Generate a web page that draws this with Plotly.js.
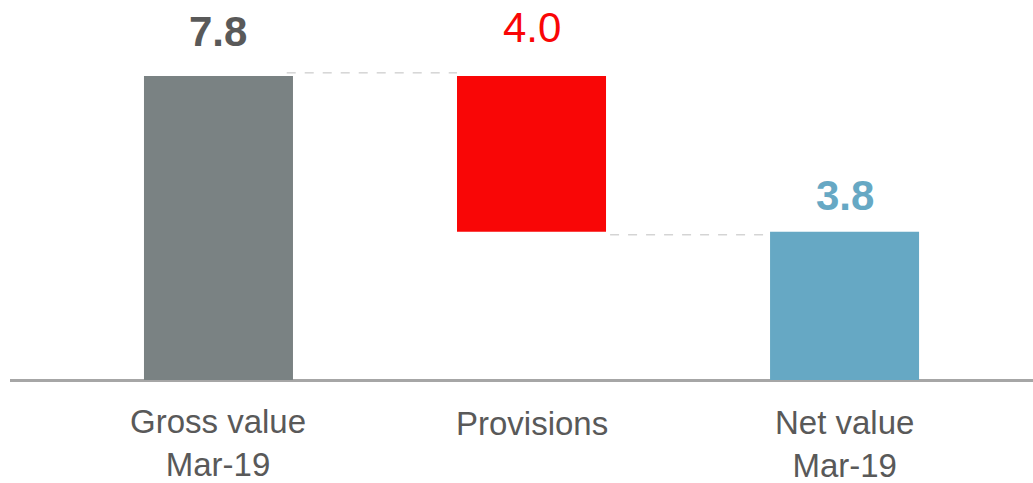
<!DOCTYPE html>
<html>
<head>
<meta charset="utf-8">
<script src="https://cdn.plot.ly/plotly-3.0.1.min.js"></script>
<style>html,body{margin:0;padding:0;background:#fff;}#chart{width:1033px;height:483px;}</style>
</head>
<body>
<div id="chart"></div>
<script>
// Data
const categories = ["Gross value<br>Mar-19", "Provisions", "Net value<br>Mar-19"];
const measures = ["absolute", "relative", "total"];
const values = [7.8, -4.0, 3.8];
const valueLabels = ["7.8", "4.0", "3.8"];

// Styles
const barColors = ["#7A8283", "#F90606", "#66A8C4"];
const labelColors = ["#595959", "#F90606", "#66A8C4"];
const labelWeights = ["bold", "normal", "bold"];
const labelShift = [44, 48, 36];
const tickShift = [-21, -23, -22];
const connectorOffset = [3, -3];
const connectorStart = [-0.02, 0.013];

// compute bar bases / heights
const bases = [], heights = [], tops = [];
let running = 0;
for (let i = 0; i < values.length; i++) {
  if (measures[i] === "absolute") { bases.push(0); heights.push(values[i]); running = values[i]; tops.push(values[i]); }
  else if (measures[i] === "relative") {
    const newRun = running + values[i];
    bases.push(Math.min(running, newRun)); heights.push(Math.abs(values[i])); tops.push(Math.max(running, newRun)); running = newRun;
  } else { bases.push(0); heights.push(running); tops.push(running); }
}

const barWidth = 0.476;
const idx = categories.map((c, i) => i);

const trace = {
  type: "bar",
  x: idx,
  y: heights,
  base: bases,
  width: barWidth,
  marker: { color: barColors, line: { width: 0 } },
  hoverinfo: "none"
};

// connectors
const shapes = [];
let run = 0;
for (let i = 0; i < values.length - 1; i++) {
  if (measures[i] === "absolute") run = values[i];
  else if (measures[i] === "relative") run = run + values[i];
  shapes.push({
    type: "line", xref: "x", yref: "y",
    ysizemode: "pixel", yanchor: run,
    x0: i + barWidth / 2 + connectorStart[i], x1: i + 1 - barWidth / 2,
    y0: connectorOffset[i], y1: connectorOffset[i],
    line: { color: "#BFBFBF", width: 1, dash: "dash" }
  });
}

const annotations = [];
for (let i = 0; i < values.length; i++) {
  annotations.push({
    x: i, y: tops[i], xref: "x", yref: "y",
    text: valueLabels[i], showarrow: false,
    yanchor: "middle", yshift: labelShift[i],
    font: { family: "Liberation Sans, Arial, sans-serif", size: 42, color: labelColors[i], weight: labelWeights[i] }
  });
  annotations.push({
    x: i, y: 0, xref: "x", yref: "y",
    text: categories[i], showarrow: false,
    yanchor: "top", yshift: tickShift[i],
    font: { family: "Liberation Sans, Arial, sans-serif", size: 33, color: "#595959" }
  });
}

const layout = {
  width: 1033, height: 483,
  margin: { l: 10, r: 0, t: 10, b: 103 },
  paper_bgcolor: "#fff", plot_bgcolor: "#fff",
  showlegend: false,
  xaxis: {
    range: [-0.666, 2.602], showgrid: false, zeroline: false,
    showticklabels: false, ticks: "", showline: false, fixedrange: true
  },
  yaxis: {
    range: [0, 9.49], showgrid: false, zeroline: true, zerolinecolor: "#A6A6A6", zerolinewidth: 3,
    showticklabels: false, ticks: "", showline: false, fixedrange: true
  },
  shapes: shapes,
  annotations: annotations
};

Plotly.newPlot("chart", [trace], layout, { displayModeBar: false, staticPlot: true });
</script>
</body>
</html>
